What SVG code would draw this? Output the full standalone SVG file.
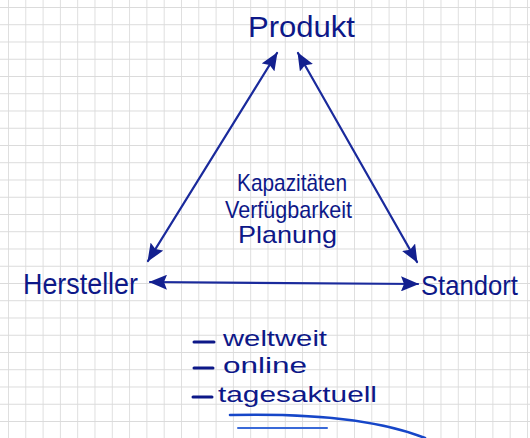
<svg xmlns="http://www.w3.org/2000/svg" width="530" height="438" viewBox="0 0 530 438">
<defs>
<pattern id="grid" width="17.3" height="17.25" patternUnits="userSpaceOnUse" patternTransform="translate(8,7)">
<path d="M0 0V17.25M0 0H17.3" fill="none" stroke="#dadada" stroke-width="1.7"/>
</pattern>
<marker id="ah" viewBox="0 0 18 15" refX="17" refY="7.5" markerWidth="18" markerHeight="15" markerUnits="userSpaceOnUse" orient="auto-start-reverse">
<path d="M0 0L18 7.5L0 15L3 7.5Z" fill="#13208f"/>
</marker>
<style>
.t{font-family:"Liberation Sans","DejaVu Sans",sans-serif;fill:#0d1888;}
.c{fill:none;stroke:#1a2a9c;stroke-width:2.2;stroke-linecap:round;}
.d{stroke:#0d1888;stroke-width:3;stroke-linecap:round;}
</style>
</defs>
<rect width="530" height="438" fill="#ffffff"/>
<rect width="530" height="438" fill="url(#grid)"/>
<g id="connectors">
<line class="c" x1="277" y1="53" x2="148" y2="261" marker-start="url(#ah)" marker-end="url(#ah)"/>
<line class="c" x1="298" y1="53" x2="417" y2="262" marker-start="url(#ah)" marker-end="url(#ah)"/>
<line class="c" x1="150" y1="282" x2="418" y2="284" marker-start="url(#ah)" marker-end="url(#ah)"/>
</g>
<g id="produkt"><text class="t" x="248" y="37" font-size="30" textLength="107" lengthAdjust="spacingAndGlyphs">Produkt</text></g>
<g id="hersteller"><text class="t" x="23" y="294" font-size="30" textLength="115" lengthAdjust="spacingAndGlyphs">Hersteller</text></g>
<g id="standort"><text class="t" x="421" y="295" font-size="28" textLength="97" lengthAdjust="spacingAndGlyphs">Standort</text></g>
<g id="center">
<text class="t" x="237" y="191" font-size="24" textLength="110" lengthAdjust="spacingAndGlyphs">Kapazitäten</text>
<text class="t" x="225" y="218" font-size="24" textLength="127" lengthAdjust="spacingAndGlyphs">Verfügbarkeit</text>
<text class="t" x="238" y="243" font-size="24" textLength="99" lengthAdjust="spacingAndGlyphs">Planung</text>
</g>
<g id="list">
<line class="d" x1="194" y1="342" x2="214" y2="342"/>
<text class="t" x="223" y="346" font-size="22" textLength="104" lengthAdjust="spacingAndGlyphs">weltweit</text>
<line class="d" x1="194" y1="368" x2="213" y2="368"/>
<text class="t" x="223" y="373" font-size="22" textLength="84" lengthAdjust="spacingAndGlyphs">online</text>
<line class="d" x1="193" y1="397" x2="212" y2="397"/>
<text class="t" x="218" y="402" font-size="22" textLength="159" lengthAdjust="spacingAndGlyphs">tagesaktuell</text>
<path d="M230 415 Q360 412 425 438" fill="none" stroke="#1646c8" stroke-width="2.6" stroke-linecap="round"/>
<path d="M238 428 L327 428" fill="none" stroke="#3a6ad8" stroke-width="2" stroke-linecap="round"/>
</g>
</svg>
